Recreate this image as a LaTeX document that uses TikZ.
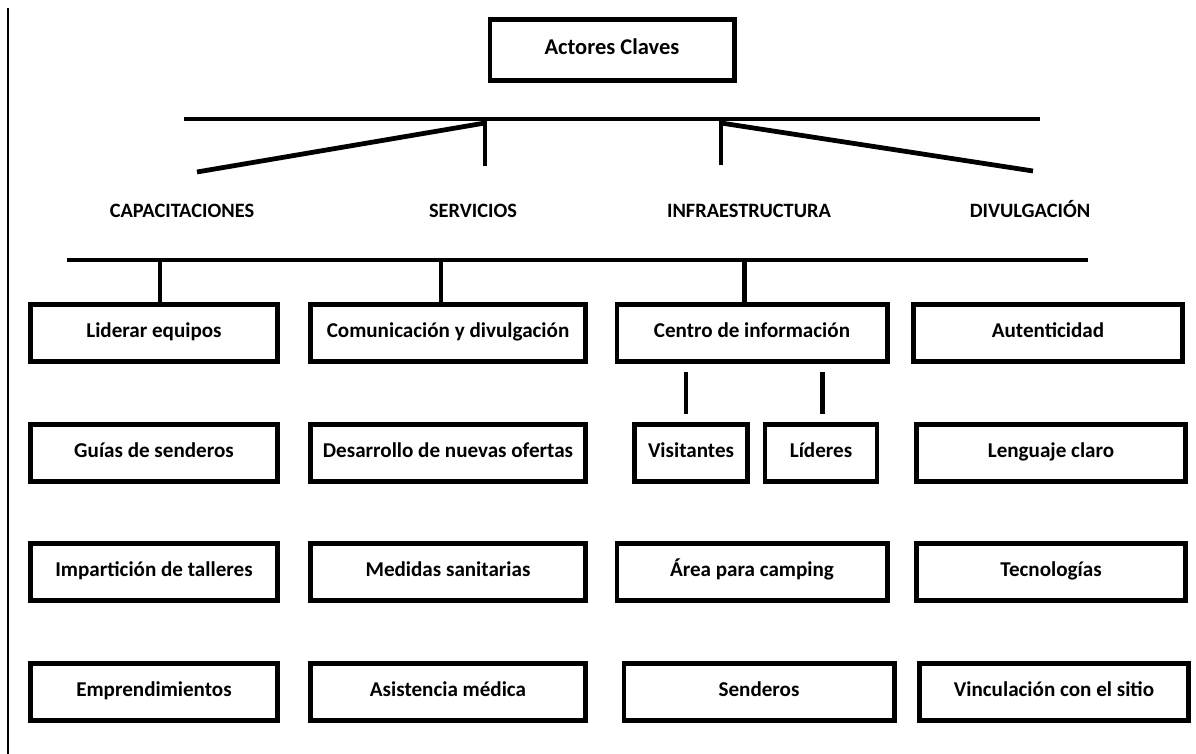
\documentclass[tikz,border=0pt]{standalone}
\usepackage{fontspec}
\setmainfont{Carlito}
\usetikzlibrary{positioning}

\begin{document}
\begin{tikzpicture}[x=0.025cm, y=-0.025cm,
    box/.style={draw, line width=3.5pt, minimum height=1.425cm, inner sep=2pt, text height=0.64em, text depth=0pt, font=\bfseries\fontsize{15}{18}\selectfont},
    head/.style={text height=0.64em, text depth=0pt, font=\bfseries\fontsize{14.5}{17}\selectfont},
    bar/.style={line width=3.4pt},
    ca/.style={box, minimum width=6.175cm},
    cb/.style={box, minimum width=6.875cm},
    cc/.style={box, minimum width=6.75cm},
    cd/.style={box, minimum width=6.725cm}]
        \useasboundingbox (0,0) rectangle (1196,754);

        % Left margin rule
        \draw[line width=1.3pt] (8,8) -- (8,754);

        % Root box
        \node[box, minimum width=6.1cm, minimum height=1.525cm, font=\bfseries\fontsize{16}{19}\selectfont] (act) at (612,50) {Actores Claves};

        % Upper bar and its branches
        \coordinate (t1w) at (184,119);
        \coordinate (t1e) at (1040,119);
        \coordinate (sv) at (485,166);
        \coordinate (ie) at (721,165);
        \coordinate (cp) at (197,172);
        \coordinate (dv) at (1033,171);
        \draw[bar] (t1w) -- (t1e);
        \draw[bar] (sv |- t1w) -- (sv);
        \draw[bar] (ie |- t1w) -- (ie);
        \draw[bar] ([yshift=-0.1cm]sv |- t1w) -- (cp);
        \draw[bar] ([yshift=-0.1cm]ie |- t1w) -- (dv);

        % Headers
        \node[head] (cap) at (182,213) {CAPACITACIONES};
        \node[head] (ser) at (473,213) {SERVICIOS};
        \node[head] (inf) at (749,213) {INFRAESTRUCTURA};
        \node[head] (div) at (1030,213) {DIVULGACIÓN};

        % Column 1
        \node[ca] (lid) at (154,333) {Liderar equipos};
        \node[ca] (gui) at (154,453) {Guías de senderos};
        \node[ca] (imp) at (154,572) {Impartición de talleres};
        \node[ca] (emp) at (154,692) {Emprendimientos};

        % Column 2
        \node[cb] (com) at (448,333) {Comunicación y divulgación};
        \node[cb] (des) at (448,453) {Desarrollo de nuevas ofertas};
        \node[cb] (med) at (448,572) {Medidas sanitarias};
        \node[cb] (asi) at (448,692) {Asistencia médica};

        % Column 3
        \node[cc] (cen) at (752,333) {Centro de información};
        \node[box, minimum width=2.825cm] (vis) at (691,453) {Visitantes};
        \node[box, minimum width=2.8cm] (lde) at (821,453) {Líderes};
        \node[cc] (are) at (752,572) {Área para camping};
        \node[cc] (sen) at (759,692) {Senderos};

        % Column 4
        \node[cd] (aut) at (1048,333) {Autenticidad};
        \node[cd] (len) at (1051,453) {Lenguaje claro};
        \node[cd] (tec) at (1051,572) {Tecnologías};
        \node[cd] (vin) at (1054,692) {Vinculación con el sitio};

        % Lower bar and stubs
        \coordinate (b2w) at (67,260);
        \coordinate (b2e) at (1088,260);
        \draw[bar] (b2w) -- (b2e);
        \draw[bar] ([xshift=0.15cm]lid.north) -- ([xshift=0.15cm]lid.north |- b2w);
        \draw[bar] ([xshift=-0.175cm]com.north) -- ([xshift=-0.175cm]com.north |- b2w);
        \draw[bar] ([xshift=-0.19cm]cen.north) -- ([xshift=-0.19cm]cen.north |- b2w);

        % Centro de informacion to its two boxes
        \draw[bar, shorten <=0.21cm, shorten >=0.21cm] ([xshift=-0.125cm]vis.north |- cen.south) -- ([xshift=-0.125cm]vis.north);
        \draw[bar, shorten <=0.21cm, shorten >=0.21cm] ([xshift=0.04cm]lde.north |- cen.south) -- ([xshift=0.04cm]lde.north);
      \end{tikzpicture}
\end{document}
